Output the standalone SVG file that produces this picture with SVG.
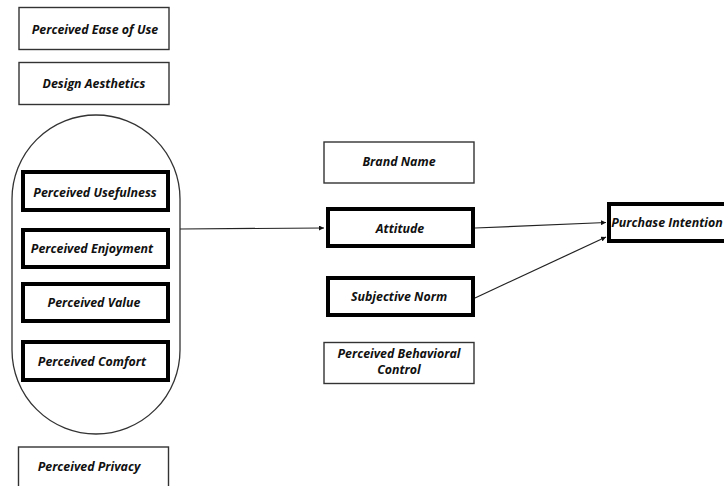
<svg xmlns="http://www.w3.org/2000/svg" width="724" height="486" viewBox="0 0 724 486">
  <defs>
    <marker id="arrow" viewBox="0 0 10 10" refX="10" refY="5" markerWidth="5" markerHeight="5" orient="auto" markerUnits="userSpaceOnUse">
      <path d="M0,0 L10,5 L0,10 z" fill="#111"/>
    </marker>
  </defs>
  <style>
    .box { fill: #fff; stroke: #333; stroke-width: 1.4; }
    .bold { fill: #fff; stroke: #000; stroke-width: 4; }
    .lbl { font-family: "Open Sans", "Noto Sans", "Liberation Sans", sans-serif; font-size: 12.4px; font-weight: bold; font-style: italic; fill: #111; text-anchor: middle; dominant-baseline: central; }
    .edge { fill: none; stroke: #222; stroke-width: 1.2; marker-end: url(#arrow); }
  </style>
  <rect width="724" height="486" fill="#fff"/>

  <g id="ease-of-use">
    <rect class="box" x="19" y="7.5" width="150" height="42"/>
    <text class="lbl" x="95" y="29">Perceived Ease of Use</text>
  </g>
  <g id="design-aesthetics">
    <rect class="box" x="19" y="62.5" width="150" height="42"/>
    <text class="lbl" x="94" y="83">Design Aesthetics</text>
  </g>

  <g id="group-enclosure">
    <rect x="12" y="115" width="168" height="319" rx="84" ry="84" fill="none" stroke="#333" stroke-width="1.3"/>
  </g>
  <g id="usefulness">
    <rect class="bold" x="23" y="172" width="145" height="38"/>
    <text class="lbl" x="95" y="192">Perceived Usefulness</text>
  </g>
  <g id="enjoyment">
    <rect class="bold" x="23" y="230" width="145" height="37"/>
    <text class="lbl" x="92" y="248">Perceived Enjoyment</text>
  </g>
  <g id="value">
    <rect class="bold" x="23" y="284" width="145" height="37"/>
    <text class="lbl" x="94" y="302">Perceived Value</text>
  </g>
  <g id="comfort">
    <rect class="bold" x="23" y="342" width="145" height="38"/>
    <text class="lbl" x="92" y="361">Perceived Comfort</text>
  </g>

  <g id="privacy">
    <rect class="box" x="18.5" y="447" width="150" height="50"/>
    <text class="lbl" x="89" y="466">Perceived Privacy</text>
  </g>

  <g id="brand-name">
    <rect class="box" x="324" y="142" width="150" height="41"/>
    <text class="lbl" x="399" y="161">Brand Name</text>
  </g>
  <g id="attitude">
    <rect class="bold" x="328" y="209" width="145" height="37"/>
    <text class="lbl" x="400" y="228">Attitude</text>
  </g>
  <g id="subjective-norm">
    <rect class="bold" x="328" y="278" width="145" height="37"/>
    <text class="lbl" x="399" y="296">Subjective Norm</text>
  </g>
  <g id="behavioral-control">
    <rect class="box" x="324" y="342.5" width="150" height="41"/>
    <text class="lbl" x="399" y="353">Perceived Behavioral</text>
    <text class="lbl" x="399" y="369">Control</text>
  </g>

  <g id="purchase-intention">
    <rect class="bold" x="609" y="204" width="130" height="37"/>
    <text class="lbl" x="667" y="222">Purchase Intention</text>
  </g>

  <g id="connectors">
    <line class="edge" x1="180" y1="229" x2="324" y2="228"/>
    <line class="edge" x1="475" y1="228" x2="606" y2="222.5"/>
    <line class="edge" x1="475" y1="298" x2="606" y2="237"/>
  </g>
</svg>
